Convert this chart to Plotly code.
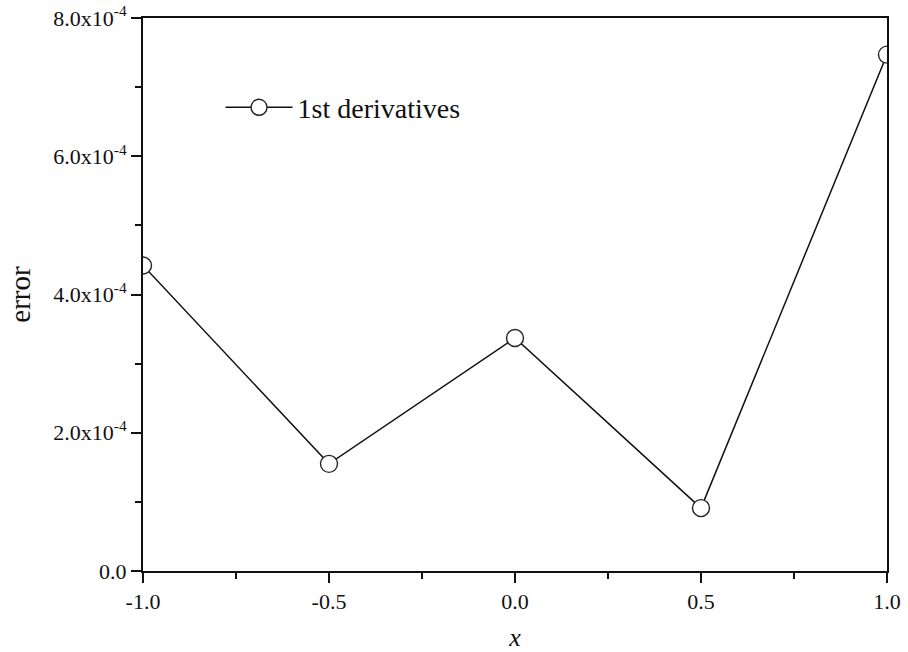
import plotly.graph_objects as go

x_vals = [-1.0, -0.5, 0.0, 0.5, 1.0]
err_vals = [4.42e-4, 1.55e-4, 3.37e-4, 0.91e-4, 7.47e-4]
series_name = "1st derivatives"

x_ticks = [-1.0, -0.5, 0.0, 0.5, 1.0]
x_ticklabels = ["-1.0", "-0.5", "0.0", "0.5", "1.0"]
y_ticks = [0, 2e-4, 4e-4, 6e-4, 8e-4]
y_ticklabels = ["0.0", "2.0x10<sup>-4</sup>", "4.0x10<sup>-4</sup>",
                "6.0x10<sup>-4</sup>", "8.0x10<sup>-4</sup>"]

FONT = "Liberation Serif, Times New Roman, serif"

fig = go.Figure()
fig.add_trace(go.Scatter(
    x=x_vals, y=err_vals, name=series_name, mode="lines+markers",
    line=dict(color="#111111", width=1.5),
    marker=dict(symbol="circle", size=17, color="white",
                line=dict(color="#222222", width=1.4)),
    cliponaxis=True,
))

axis_common = dict(
    showgrid=False, zeroline=False, showline=True, linecolor="#111111",
    linewidth=2, mirror=True, ticks="outside", tickwidth=2, ticklen=10,
    tickcolor="#111111", tickfont=dict(family=FONT, size=22, color="#111111"),
    automargin=False,
)

fig.update_xaxes(
    range=[-1.0, 1.0], tickmode="array", tickvals=x_ticks, ticktext=x_ticklabels,
    minor=dict(dtick=0.25, ticks="outside", ticklen=6, tickwidth=2, tickcolor="#111111"),
    title=dict(text="<i>x</i>", font=dict(family=FONT, size=26, color="#111111"), standoff=15),
    **axis_common,
)
fig.update_yaxes(
    range=[0, 8e-4], tickmode="array", tickvals=y_ticks, ticktext=y_ticklabels,
    minor=dict(dtick=1e-4, ticks="outside", ticklen=6, tickwidth=2, tickcolor="#111111"),
    title=dict(text="error", font=dict(family=FONT, size=29, color="#111111"), standoff=14),
    **axis_common,
)

fig.update_layout(
    width=908, height=652,
    margin=dict(l=143, r=21, t=18, b=81),
    paper_bgcolor="white", plot_bgcolor="white",
    showlegend=True,
    legend=dict(x=0.1042, y=0.838, xanchor="left", yanchor="middle",
                font=dict(family=FONT, size=28, color="#111111"),
                bgcolor="rgba(0,0,0,0)", itemwidth=67),
)

fig.write_html("out.html")
